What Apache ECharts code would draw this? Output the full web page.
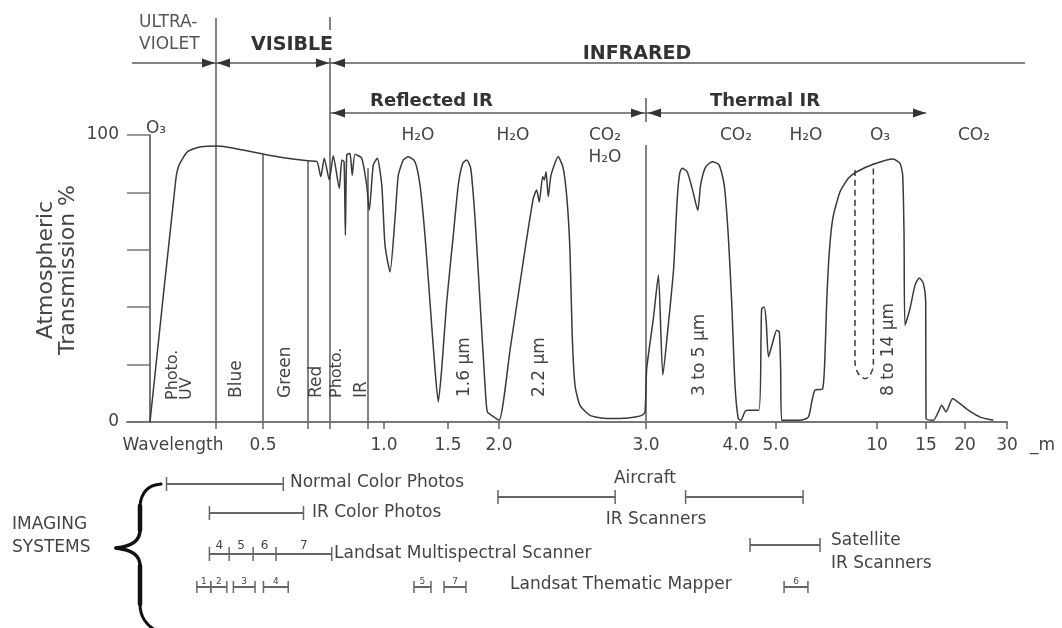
<!DOCTYPE html>
<html><head><meta charset="utf-8">
<script src="https://cdn.jsdelivr.net/npm/echarts@6/dist/echarts.min.js"></script>
<style>html,body{margin:0;padding:0;background:#fff}#c{width:1062px;height:628px}</style>
</head><body><div id="c"></div>
<script>
// ================= DATA =================
// Atmospheric transmission curve: [wavelength µm, transmission %]
const transmission = [
 [0.300,0],[0.339,84.3],[0.344,89.5],[0.357,94.2],[0.377,95.9],[0.404,96.2],[0.438,95.4],[0.502,93.3],[0.554,91.9],[0.600,91.0],[0.640,90.8],
 [0.658,85.5],[0.674,91.9],[0.697,84.3],[0.717,92.8],[0.749,81.4],[0.762,91.3],[0.774,90.7],[0.781,65.1],[0.788,93.0],[0.805,93.6],[0.817,86.0],[0.832,93.3],[0.867,91.9],[0.893,82.6],[0.908,73.8],[0.933,89.5],[0.958,91.9],[0.986,82.6],
 [1.008,61.6],[1.047,52.3],[1.086,70.9],[1.112,86.0],[1.151,91.3],[1.190,92.4],[1.242,90.7],[1.281,82.6],[1.320,65.1],[1.359,41.9],[1.398,18.6],[1.424,7.0],[1.451,18.6],[1.490,41.9],[1.552,65.1],[1.601,82.6],[1.644,90.1],[1.683,91.3],[1.723,88.4],[1.765,70.9],[1.814,41.9],[1.863,12.8],[1.885,3.5],[1.928,2.3],[2.000,0.6],
 [2.075,25.0],[2.165,56.0],[2.233,77.9],[2.256,80.8],[2.274,76.7],[2.297,85.5],[2.308,84.3],[2.320,87.2],[2.335,78.5],[2.354,86.0],[2.403,92.4],[2.437,88.4],[2.464,76.7],[2.483,59.3],[2.498,30.2],[2.517,12.8],[2.551,5.8],[2.619,2.3],[2.733,1.2],[2.891,1.5],[2.971,2.3],[2.993,3.5],
 [3.008,18.6],[3.082,36.1],[3.138,51.2],[3.187,16.3],[3.251,34.9],[3.307,53.5],[3.345,76.7],[3.374,86.6],[3.401,88.4],[3.457,87.2],[3.513,81.4],[3.576,73.8],[3.607,82.6],[3.663,88.9],[3.738,90.7],[3.813,89.5],[3.869,82.6],[3.914,65.1],[3.952,41.9],[3.989,12.8],[4.056,1.2],[4.122,0.6],
 [4.220,3.5],[4.285,4.1],[4.570,4.1],[4.627,30.2],[4.643,39.5],[4.707,40.1],[4.756,34.9],[4.812,22.7],[4.920,27.9],[5.035,32.0],[5.163,31.4],[5.230,18.6],[5.280,0.6],[6.190,0.6],
 [6.600,1.7],[6.770,7.0],[6.930,11.1],[7.310,11.6],[7.430,24.4],[7.510,41.9],[7.640,59.3],[7.810,70.9],[8.170,80.2],[8.580,84.9],[9.000,87.2],[9.820,89.8],[11.66,91.6],[12.35,90.1],[12.62,86.0],[12.76,65.1],[12.86,33.7],
 [13.37,39.5],[13.88,47.7],[14.32,50.2],[14.73,48.3],[14.97,41.9],[15.00,1.2],[15.94,0.6],[16.58,3.5],[17.01,5.8],[17.56,3.5],[18.42,8.2],[19.36,6.4],[20.79,4.1],[23.57,1.7],[26.74,0.6]
];
// Dashed ozone-absorption outline inside the 8-14 µm window
const ozoneDashed = [[8.91,87.8],[8.91,20.9],[9.07,16.9],[9.41,15.1],[9.65,16.3],[9.82,19.8],[9.82,90.1]];

// x-axis ticks and labels (µm)
const tickWaves  = [0.4,0.5,0.6,0.7,0.9,1.0,1.5,2.0,3.0,4.0,5.0,10,15,20,30];
const labelWaves = [0.5,1.0,1.5,2.0,3.0,4.0,5.0,10,15,20,30];
const labelTexts = ['0.5','1.0','1.5','2.0','3.0','4.0','5.0','10','15','20','30'];
const yLabelValues = [0,100];

// Spectral region boundaries (µm)
const colourEdges    = [0.4,0.5,0.6,0.7,0.9];
const colourEdgeTops = [null,93.3,91.0,null,88.4];   // % where the boundary meets the curve
const uvVisibleEdge = 0.4, visibleIrEdge = 0.7, reflThermEdge = 3.0, thermalEnd = 15;

// Imaging systems (µm ranges)
const normalColorPhotos = [0.325,0.545];
const irColorPhotos     = [0.39,0.59];
const mssEdges          = [0.39,0.428,0.479,0.529,0.709];
const mssBands          = ['4','5','6','7'];
const tmRanges          = [[0.371,0.392],[0.392,0.423],[0.437,0.483],[0.501,0.556],[1.234,1.367],[1.469,1.676],[5.40,6.58]];
const tmBands           = ['1','2','3','4','5','7','6'];
const aircraftIR        = [[1.99,2.79],[3.44,6.34]];
const satelliteIR       = [4.35,7.18];

// ================= AXIS SCALE (the figure's non-uniform wavelength axis) =================
const STOP_W = [0.3,0.4,0.5,0.6,0.7,0.9,1.0,1.5,2.0,3.0,4.0,5.0,10,15,20,30];
const STOP_P = [0,66,113,158,180,218,234,298,349,496,586,626,727,776,815,857];
function pos(w){
  const n = STOP_W.length;
  let i = 0;
  if (w <= STOP_W[0]) i = 0; else if (w >= STOP_W[n-1]) i = n-2;
  else { while (!(w >= STOP_W[i] && w <= STOP_W[i+1])) i++; }
  return STOP_P[i] + (w - STOP_W[i]) / (STOP_W[i+1]-STOP_W[i]) * (STOP_P[i+1]-STOP_P[i]);
}
const labelPos = labelWaves.map(pos);

const FONT = '"DejaVu Sans", "Liberation Sans", sans-serif';
const TXT = '#444', LINE = '#5a5a5a', CURVE = '#3a3a3a';

const chart = echarts.init(document.getElementById('c'));
chart.setOption({
  animation:false,
  backgroundColor:'#fff',
  grid:{left:127,right:55,top:135,bottom:206},
  xAxis:{type:'value',min:-23,max:857,
    axisLine:{show:true,onZero:false,lineStyle:{color:'#777',width:2}},
    splitLine:{show:false},
    axisTick:{show:true,customValues:tickWaves.map(pos),length:7,lineStyle:{color:'#666',width:1.5}},
    axisLabel:{show:true,customValues:labelPos,margin:15,color:TXT,fontSize:17,fontFamily:FONT,
      formatter:v=>{const i=labelPos.findIndex(p=>Math.abs(p-v)<0.01);return i>=0?labelTexts[i]:'';}}},
  yAxis:{type:'value',min:0,max:100,interval:20,
    axisLine:{show:true,onZero:true,lineStyle:{color:'#777',width:2}},
    axisTick:{show:true,length:23,lineStyle:{color:'#777',width:1.5}},
    splitLine:{show:false},
    axisLabel:{margin:8,color:TXT,fontSize:17,fontFamily:FONT,
      formatter:v=>yLabelValues.includes(v)?String(v):''}},
  series:[
    {type:'line',data:transmission.map(([w,t])=>[pos(w),t]),symbol:'none',smooth:0.2,clip:false,silent:true,
     lineStyle:{color:CURVE,width:1.5}},
    {type:'line',data:ozoneDashed.map(([w,t])=>[pos(w),t]),symbol:'none',smooth:0.3,clip:false,silent:true,
     lineStyle:{color:CURVE,width:1.5,type:[6,4]}}
  ]
});

// ================= ANNOTATIONS =================
const X = w => chart.convertToPixel({xAxisIndex:0}, pos(w));
const Y = v => chart.convertToPixel({yAxisIndex:0}, v);
const Y0 = Y(0);
const els = [];
const L = (x1,y1,x2,y2,w=1.5,c=LINE) => els.push({type:'line',silent:true,shape:{x1,y1,x2,y2},style:{stroke:c,lineWidth:w}});
const BZ = (x1,y1,cpx1,cpy1,cpx2,cpy2,x2,y2,w,c) => els.push({type:'bezierCurve',silent:true,shape:{x1,y1,cpx1,cpy1,cpx2,cpy2,x2,y2},style:{stroke:c,lineWidth:w,fill:null,lineCap:'round',lineJoin:'round'}});
const head = (x,y,dir) => els.push({type:'polygon',silent:true,shape:{points:[[x,y],[x-dir*13,y-4.5],[x-dir*13,y+4.5]]},style:{fill:'#333'}});
const T = (text,x,y,o={}) => els.push({type:'text',silent:true,x,y,rotation:o.rot||0,
  style:{text,fill:o.color||TXT,font:`${o.weight||'normal'} ${o.size||17}px ${FONT}`,
    align:o.align||'center',verticalAlign:o.va||'middle',textAlign:o.align||'center',textVerticalAlign:o.va||'middle',
    lineHeight:o.lh||undefined}});

// boundary lines
colourEdges.forEach((w,i)=>{
  const x = X(w);
  let top;
  if (w === uvVisibleEdge) top = 18;
  else if (w === visibleIrEdge) { top = 58; L(x,17,x,30); }
  else top = Y(colourEdgeTops[i]);
  L(x,top,x,Y0);
});
{ const x = X(reflThermEdge); L(x,145,x,Y0); L(x,98,x,122); }

// arrow rows
const r1 = 63, r2 = 113;
const xUV = X(uvVisibleEdge), xVI = X(visibleIrEdge), xRT = X(reflThermEdge), xTE = X(thermalEnd);
L(132,r1,xUV,r1); head(xUV-1,r1,1);
L(xUV,r1,xVI,r1); head(xUV+1,r1,-1); head(xVI-1,r1,1);
L(xVI,r1,1025,r1); head(xVI+2,r1,-1);
L(xVI,r2,xRT,r2); head(xVI+2,r2,-1); head(xRT-2,r2,1);
L(xRT,r2,xTE,r2); head(xRT+2,r2,-1); head(xTE,r2,1);

// header texts
T('ULTRA-',139,23,{align:'left',color:'#555'});
T('VIOLET',139,44.5,{align:'left',color:'#555'});
T('VISIBLE',292,45.5,{weight:'bold',size:19,color:'#333'});
T('INFRARED',637,54,{weight:'bold',size:19,color:'#333'});
T('Reflected IR',431.5,101,{weight:'bold',size:18,color:'#333'});
T('Thermal IR',765,101,{weight:'bold',size:18,color:'#333'});

// absorbing gases
[['O₃',156,129],['H₂O',418,136],['H₂O',513,136],['CO₂',605,136],['H₂O',605,158],['CO₂',736,136],['H₂O',806,136],['O₃',880,136],['CO₂',974,136]]
  .forEach(([t,x,y])=>T(t,x,y));

// rotated labels inside the plot (reading upward)
const R = Math.PI/2;
[['Photo.\nUV',180,400],['Blue',237,398],['Green',286,398],['Red',317,398],['Photo.',337,398],['IR',362,398],
 ['1.6 µm',465,397],['2.2 µm',540,397],['3 to 5 µm',700,396],['8 to 14 µm',889,396]]
  .forEach(([t,x,y])=>T(t,x,y,{rot:R,align:'left',lh:14.5,size:t.startsWith('Photo')?16:17}));

// axis titles
T('Atmospheric\nTransmission %',57,270,{rot:R,lh:22,size:22});
T('Wavelength',173,446);
T('_m',1030,446,{align:'left'});

// imaging systems
T('IMAGING',12,525,{align:'left'});
T('SYSTEMS',12,548,{align:'left'});
// curly brace
const BR = '#111';
BZ(161,484,148,485,141,493,140,506,3,BR);
BZ(140,506,140,514,140,522,140,530,4.5,BR);
BZ(140,530,140,541,132,546,116,548,3.5,BR);
BZ(116,548,132,550,140,555,140,566,3.5,BR);
BZ(140,566,140,578,140,592,140,604,4.5,BR);
BZ(140,604,140,617,146,625,158,632,3,BR);

const BAR = '#666';
function range(w1,w2,y,cap=7){const a=X(w1),b=X(w2);L(a,y,b,y,2,BAR);L(a,y-cap,a,y+cap,1.5,BAR);L(b,y-cap,b,y+cap,1.5,BAR);}
range(normalColorPhotos[0],normalColorPhotos[1],484);
T('Normal Color Photos',290,483,{align:'left'});
range(irColorPhotos[0],irColorPhotos[1],513);
T('IR Color Photos',312,513,{align:'left'});
// MSS
{ const y=554; L(X(mssEdges[0]),y,X(mssEdges[mssEdges.length-1]),y,2,BAR);
  mssEdges.forEach(w=>L(X(w),y-7,X(w),y+7,1.5,BAR));
  mssBands.forEach((b,i)=>T(b,(X(mssEdges[i])+X(mssEdges[i+1]))/2,546,{size:12})); }
T('Landsat Multispectral Scanner',334,554,{align:'left'});
// TM
tmRanges.forEach((r,i)=>{ range(r[0],r[1],587,6); T(tmBands[i],(X(r[0])+X(r[1]))/2,582,{size:9}); });
T('Landsat Thematic Mapper',510,585,{align:'left'});
// aircraft / satellite
aircraftIR.forEach(r=>range(r[0],r[1],497));
T('Aircraft',645,479);
T('IR Scanners',656,520);
range(satelliteIR[0],satelliteIR[1],545);
T('Satellite',831,541,{align:'left'});
T('IR Scanners',831,564,{align:'left'});

chart.setOption({graphic:{elements:els}});
</script>
</body></html>
